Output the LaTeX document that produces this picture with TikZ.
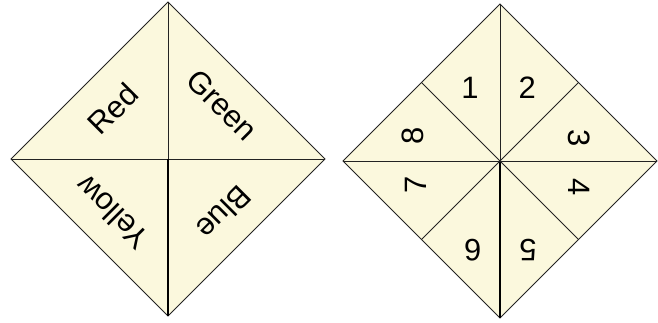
\documentclass[tikz,border=0pt]{standalone}
\usepackage{fontspec}
\setmainfont{Liberation Sans}
\usetikzlibrary{calc}

\definecolor{paper}{RGB}{251,248,221}
\definecolor{crease}{RGB}{35,35,35}

\begin{document}
\begin{tikzpicture}[
    flap/.style={draw=crease, fill=paper, line width=0.7pt, line join=miter},
    fold/.style={draw=crease, line width=0.7pt},
    mainfold/.style={draw=black, line width=1.3pt},
    lbl/.style={font=\fontsize{22}{26}\selectfont, inner sep=0pt}
  ]
  \useasboundingbox (0,0) rectangle (16.45,8.05);

  % Colour side
  \coordinate (lc) at (4.2,4.075);
  \coordinate (lt) at ($(lc)+(0,3.925)$);
  \coordinate (lb) at ($(lc)+(0,-3.925)$);
  \coordinate (ll) at ($(lc)+(-3.925,0)$);
  \coordinate (lr) at ($(lc)+(3.925,0)$);
  \path[flap] (lt) -- (lr) -- (lb) -- (ll) -- cycle;
  \draw[fold] (ll) -- (lr);
  \draw[fold] (lc) -- (lt);
  \draw[mainfold] (lc) -- (lb);

  \node[lbl, rotate=45]  (red)    at ($(lc)+(-1.37,1.25)$) {Red};
  \node[lbl, rotate=-45] (green)  at ($(lc)+(1.35,1.35)$)  {Green};
  \node[lbl, rotate=135] (yellow) at ($(lc)+(-1.4,-1.35)$) {Yellow};
  \node[lbl, rotate=225] (blue)   at ($(lc)+(1.4,-1.35)$)  {Blue};

  % Number side
  \coordinate (rc) at (12.5,4.025);
  \coordinate (rt) at ($(rc)+(0,3.925)$);
  \coordinate (rb) at ($(rc)+(0,-3.925)$);
  \coordinate (rl) at ($(rc)+(-3.925,0)$);
  \coordinate (rr) at ($(rc)+(3.925,0)$);
  \coordinate (mtl) at ($(rt)!0.5!(rl)$);
  \coordinate (mtr) at ($(rt)!0.5!(rr)$);
  \coordinate (mbr) at ($(rb)!0.5!(rr)$);
  \coordinate (mbl) at ($(rb)!0.5!(rl)$);
  \path[flap] (rt) -- (rr) -- (rb) -- (rl) -- cycle;
  \draw[fold] (rl) -- (rr);
  \draw[fold] (rc) -- (rt);
  \draw[mainfold] (rc) -- (rb);
  \foreach \m in {mtl,mtr,mbr,mbl} {
    \draw[fold] (rc) -- (\m);
  }

  \foreach \n/\dx/\dy/\r in {1/-0.75/1.82/0, 2/0.68/1.82/0,
                             3/1.97/0.57/-90, 4/1.97/-0.65/-90,
                             5/0.7/-2.22/180, 6/-0.68/-2.22/180,
                             7/-2.1/-0.6/90, 8/-2.17/0.62/90} {
    \node[lbl, rotate=\r] (n\n) at ($(rc)+(\dx,\dy)$) {\n};
  }
\end{tikzpicture}
\end{document}
